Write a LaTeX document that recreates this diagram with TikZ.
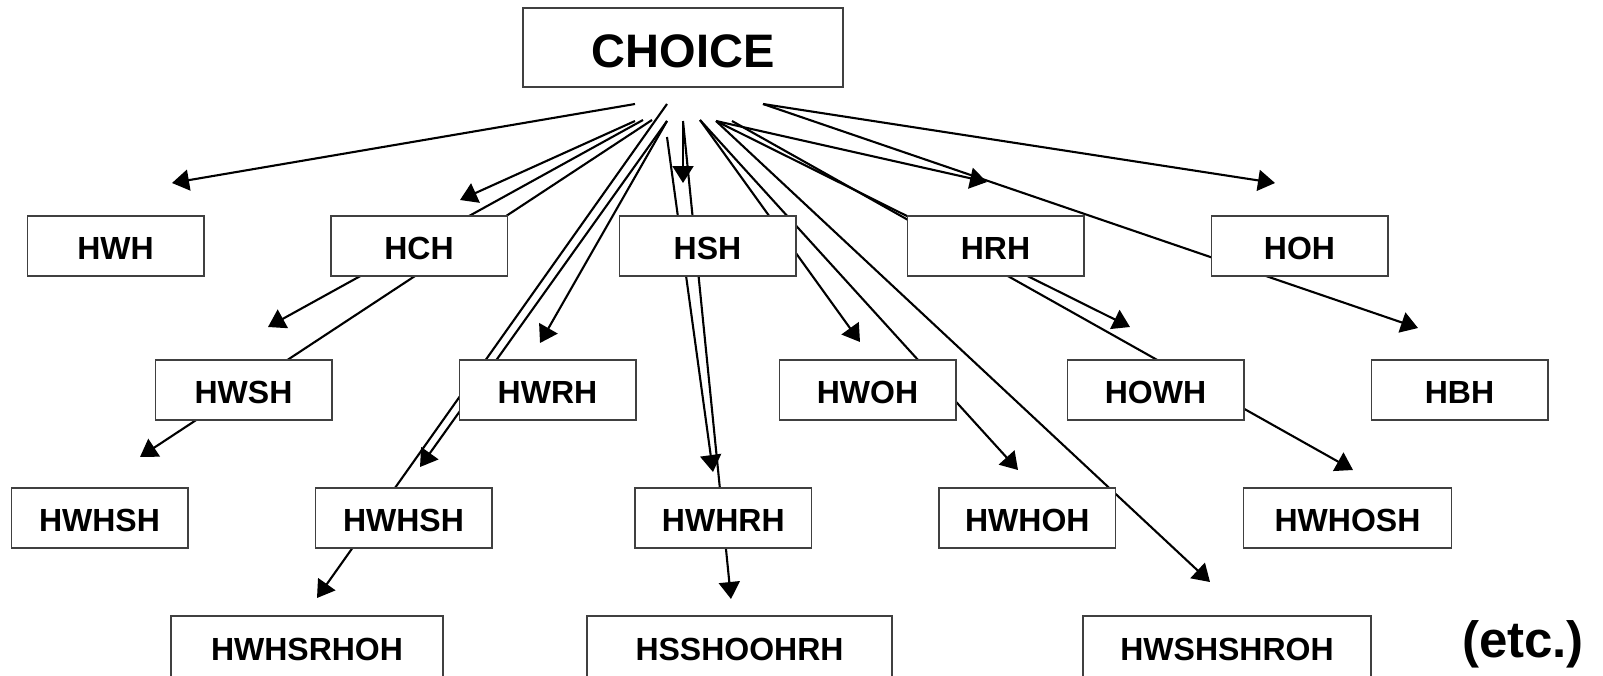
\documentclass[tikz,border=0pt]{standalone}
\usepackage{fontspec}
\setmainfont{Liberation Sans}
\usetikzlibrary{arrows.meta}
\begin{document}
\begin{tikzpicture}[x=1pt,y=-1pt,
  box/.style={draw=black!75, line width=1.5pt, fill=white, rectangle,
    minimum width=176.5pt, minimum height=60pt, inner sep=0pt,
    text height=27pt, text depth=0pt,
    font=\fontsize{32}{36}\selectfont\bfseries},
  conn/.style={line width=2.1pt, -{Triangle[length=17pt,width=21pt]}},
]
\useasboundingbox (0,0) rectangle (1603,675);
\clip (0,0) rectangle (1603,675);
\fill[white] (0,0) rectangle (1603,675);

% start points under CHOICE
\coordinate (sa) at (635,104);
\coordinate (sb) at (635,121);
\coordinate (sc) at (643,120);
\coordinate (sd) at (652,120);
\coordinate (se) at (667,104);
\coordinate (sf) at (667,121);
\coordinate (sg) at (667,137);
\coordinate (sh) at (683,121);
\coordinate (si) at (700,120);
\coordinate (sj) at (716,121);
\coordinate (sk) at (732,121);
\coordinate (sl) at (763,104);

% arrow tips
\coordinate (tHWH) at (172,183);
\coordinate (tHCH) at (460,200);
\coordinate (tHWSH) at (268,327);
\coordinate (tHWHSHa) at (140,457);
\coordinate (tHWHSRHOH) at (317,598);
\coordinate (tHWHSHb) at (420,467);
\coordinate (tHWRH) at (540,343);
\coordinate (tHWHRH) at (713,472);
\coordinate (tHSH) at (683,183);
\coordinate (tHSSHOOHRH) at (731,599);
\coordinate (tHWOH) at (860,342);
\coordinate (tHWHOH) at (1018,470);
\coordinate (tHWSHSHROH) at (1210,582);
\coordinate (tHOWH) at (1130,327);
\coordinate (tHWHOSH) at (1353,470);
\coordinate (tHRH) at (987,182);
\coordinate (tHOH) at (1275,183);
\coordinate (tHBH) at (1418,328);

\draw[conn] (sa) -- (tHWH);
\draw[conn] (sb) -- (tHCH);
\draw[conn] (sc) -- (tHWSH);
\draw[conn] (sd) -- (tHWHSHa);
\draw[conn] (se) -- (tHWHSRHOH);
\draw[conn] (sf) -- (tHWHSHb);
\draw[conn] (sf) -- (tHWRH);
\draw[conn] (sg) -- (tHWHRH);
\draw[conn] (sh) -- (tHSH);
\draw[conn] (sh) -- (tHSSHOOHRH);
\draw[conn] (si) -- (tHWOH);
\draw[conn] (si) -- (tHWHOH);
\draw[conn] (sj) -- (tHWSHSHROH);
\draw[conn] (sj) -- (tHOWH);
\draw[conn] (sk) -- (tHWHOSH);
\draw[conn] (sj) -- (tHRH);
\draw[conn] (sl) -- (tHOH);
\draw[conn] (sl) -- (tHBH);

% boxes
\node[box, minimum width=320pt, minimum height=79pt, text height=39pt,
  font=\fontsize{47}{52}\selectfont\bfseries] (choice) at (683,47.5) {CHOICE};

\node[box] (hwh) at (115.5,246) {HWH};
\node[box] (hch) at (419,246) {HCH};
\node[box] (hsh) at (707.5,246) {HSH};
\node[box] (hrh) at (995.5,246) {HRH};
\node[box] (hoh) at (1299.5,246) {HOH};

\node[box] (hwsh) at (243.5,390) {HWSH};
\node[box] (hwrh) at (547.5,390) {HWRH};
\node[box] (hwoh) at (867.5,390) {HWOH};
\node[box] (howh) at (1155.5,390) {HOWH};
\node[box] (hbh) at (1459.5,390) {HBH};

\node[box] (hwhsha) at (99.5,518) {HWHSH};
\node[box] (hwhshb) at (403.5,518) {HWHSH};
\node[box] (hwhrh) at (723.3,518) {HWHRH};
\node[box] (hwhoh) at (1027.3,518) {HWHOH};
\node[box, minimum width=208pt] (hwhosh) at (1347.5,518) {HWHOSH};

\node[box, minimum width=272pt, minimum height=62pt] (hwhsrhoh) at (307,647) {HWHSRHOH};
\node[box, minimum width=305pt, minimum height=62pt] (hsshoohrh) at (739.5,647) {HSSHOOHRH};
\node[box, minimum width=288pt, minimum height=62pt] (hwshshroh) at (1227,647) {HWSHSHROH};

\node[font=\fontsize{51}{56}\selectfont\bfseries, inner sep=0pt] (etc) at (1523,644) {(etc.)};
\end{tikzpicture}
\end{document}
